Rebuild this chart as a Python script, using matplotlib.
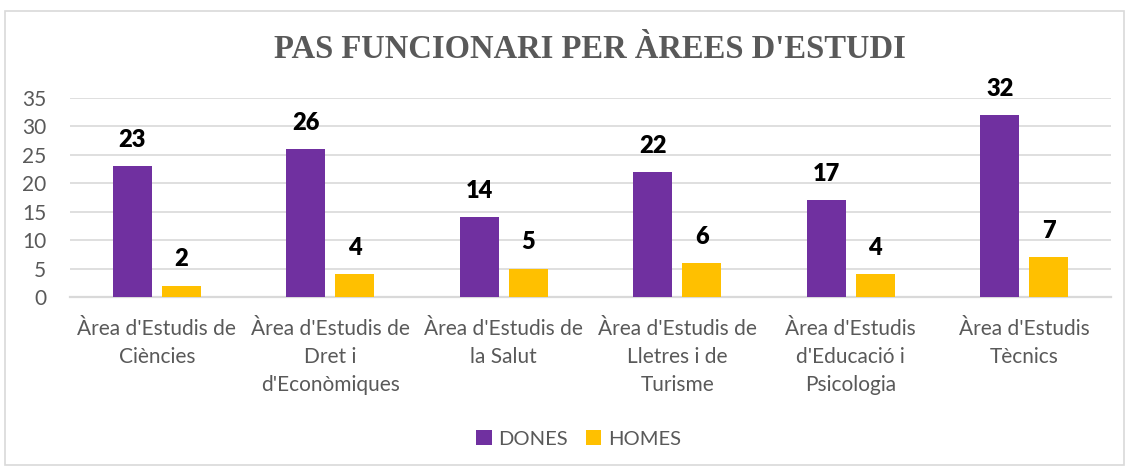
import matplotlib.pyplot as plt
import numpy as np
from matplotlib.patches import Rectangle

# Chart data
areas = ["Àrea d'Estudis de\nCiències",
         "Àrea d'Estudis de\nDret i\nd'Econòmiques",
         "Àrea d'Estudis de\nla Salut",
         "Àrea d'Estudis de\nLletres i de\nTurisme",
         "Àrea d'Estudis\nd'Educació i\nPsicologia",
         "Àrea d'Estudis\nTècnics"]
dones = [23, 26, 14, 22, 17, 32]
homes = [2, 4, 5, 6, 4, 7]
y_ticks = [0, 5, 10, 15, 20, 25, 30, 35]
title = "PAS FUNCIONARI PER ÀREES D'ESTUDI"

PURPLE = '#7030A0'
YELLOW = '#FFC000'
GRAY_TEXT = '#595959'
GRID = '#D9D9D9'

plt.rcParams['font.family'] = ['Lato', 'DejaVu Sans']

fig = plt.figure(figsize=(11.29, 4.70), dpi=100)
ax = fig.add_axes([70 / 1129, 173 / 470, 1041 / 1129, 199 / 470])

# outer chart border
fig.patches.append(Rectangle((5 / 1129, 5 / 470), 1119 / 1129, 454 / 470,
                             transform=fig.transFigure, fill=False,
                             edgecolor=GRID, linewidth=1.2))

x = np.arange(len(areas))
width = 0.225
offset = 0.141
b1 = ax.bar(x - offset, dones, width, color=PURPLE, label='DONES', zorder=3)
b2 = ax.bar(x + offset, homes, width, color=YELLOW, label='HOMES', zorder=3)

for bars in (b1, b2):
    for rect in bars:
        ax.annotate(f"{int(rect.get_height())}",
                    (rect.get_x() + rect.get_width() / 2, rect.get_height()),
                    xytext=(0, 11), textcoords='offset points',
                    ha='center', va='bottom', fontsize=17, fontweight='heavy',
                    color='black', annotation_clip=False)

ax.set_xlim(-0.5, len(areas) - 0.5)
ax.set_ylim(0, 35)
ax.set_yticks(y_ticks)
ax.set_xticks(x)
ax.set_xticklabels(areas, linespacing=1.48)
ax.tick_params(axis='both', length=0, labelsize=15, labelcolor=GRAY_TEXT)
ax.tick_params(axis='y', pad=17)
ax.tick_params(axis='x', pad=16)

ax.grid(axis='y', color=GRID, linewidth=1.2, zorder=0)
for side in ('top', 'right', 'left'):
    ax.spines[side].set_visible(False)
ax.spines['bottom'].set_color(GRID)
ax.spines['bottom'].set_linewidth(1.6)

fig.text(590 / 1129, 1 - 50 / 470, title, ha='center', va='center',
         fontsize=23.5, fontweight='bold', color=GRAY_TEXT,
         family=['Liberation Serif', 'DejaVu Serif'])

leg = fig.legend(loc='center', bbox_to_anchor=(579 / 1129, 1 - 439 / 470),
                 ncol=2, frameon=False, fontsize=14.5, handlelength=0.75,
                 handleheight=0.75, handletextpad=0.35, columnspacing=0.9)
for t in leg.get_texts():
    t.set_color(GRAY_TEXT)

fig.savefig('out.png', dpi=100)
